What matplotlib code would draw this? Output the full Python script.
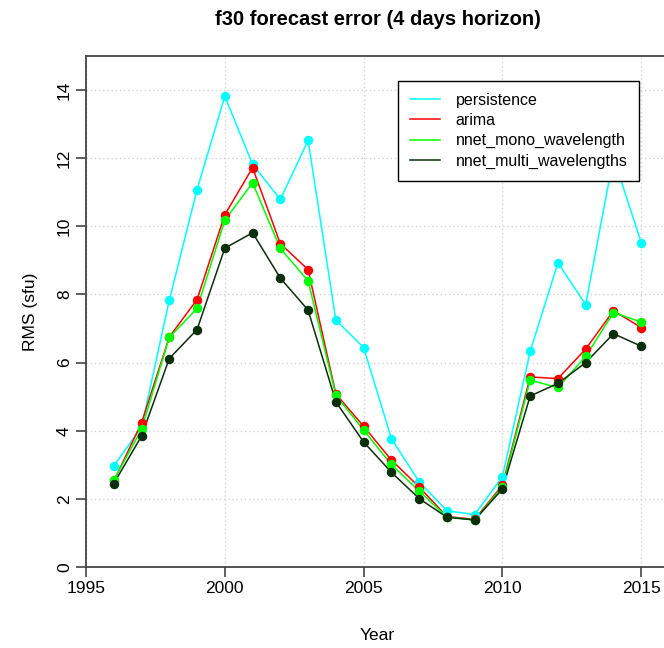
import numpy as np
import matplotlib
matplotlib.use("Agg")
import matplotlib.pyplot as plt

plt.rcParams["font.family"] = ["Liberation Sans", "DejaVu Sans"]

# ─── data ────────────────────────────────────────────────────────────
years = list(range(1996, 2016))
persistence = [2.97, 4.10, 7.83, 11.08, 13.82, 11.82, 10.79, 12.52, 7.25, 6.44,
               3.77, 2.50, 1.65, 1.54, 2.65, 6.33, 8.93, 7.70, 12.03, 9.52]
arima = [2.52, 4.23, 6.75, 7.85, 10.34, 11.72, 9.49, 8.73, 5.08, 4.13,
         3.14, 2.35, 1.48, 1.40, 2.40, 5.58, 5.53, 6.40, 7.52, 7.03]
nnet_mono = [2.55, 4.04, 6.74, 7.59, 10.18, 11.28, 9.35, 8.40, 5.04, 4.02,
             3.01, 2.23, 1.47, 1.38, 2.35, 5.48, 5.27, 6.18, 7.47, 7.19]
nnet_multi = [2.45, 3.84, 6.12, 6.97, 9.36, 9.81, 8.48, 7.54, 4.85, 3.67,
              2.78, 2.01, 1.46, 1.38, 2.29, 5.02, 5.39, 6.00, 6.85, 6.48]

series = [
    ("persistence", persistence, "#00FFFF"),
    ("arima", arima, "#FF0000"),
    ("nnet_mono_wavelength", nnet_mono, "#00FF00"),
    ("nnet_multi_wavelengths", nnet_multi, "#0B2E0B"),
]

W, H = 664, 648
fig = plt.figure(figsize=(W / 100, H / 100), dpi=100)
# axes box in pixels: left 86, right ~669 (cropped), top 56, bottom 567
ax = fig.add_axes([86 / W, 1 - 567 / H, (669 - 86) / W, (567 - 56) / H])

for label, vals, col in series:
    ax.plot(years, vals, color=col, lw=1.1, label=label)
    ax.plot(years, vals, "o", color=col, ms=5.8, zorder=3)

ax.set_xlim(1995, 2016)
ax.set_ylim(0, 15)
ax.set_xticks([1995, 2000, 2005, 2010, 2015])
ax.set_yticks(np.arange(0, 15, 2))
ax.grid(True, color="#d3d3d3", ls=(0, (1, 2)), lw=1.0)
ax.set_axisbelow(True)

for s in ax.spines.values():
    s.set_color("#444444")
    s.set_linewidth(1.3)
ax.tick_params(direction="out", length=7, width=1.2, color="#444444",
               labelsize=12.5, pad=3)
plt.setp(ax.get_yticklabels(), rotation=90, va="center")

ax.set_title("f30 forecast error (4 days horizon)", fontsize=14.5,
             fontweight="bold", pad=22)
ax.set_xlabel("Year", fontsize=12.5, labelpad=23)
ax.set_ylabel("RMS (sfu)", fontsize=12.5, labelpad=14)

leg = fig.legend(loc="upper left", bbox_to_anchor=(398 / W, 1 - 81 / H),
                 borderaxespad=0, fancybox=False, framealpha=1,
                 edgecolor="black", fontsize=11.5, handlelength=1.9,
                 handletextpad=0.95, labelspacing=0.32, borderpad=0.75)
leg.get_frame().set_linewidth(1.0)

fig.savefig("out.png", dpi=100)
